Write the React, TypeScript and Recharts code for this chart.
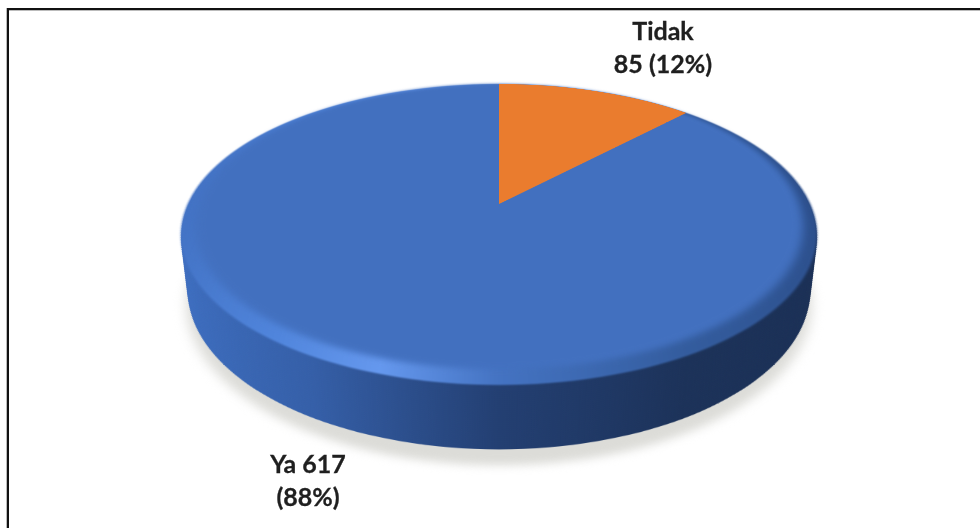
import { PieChart, Pie, Cell } from 'recharts';

const categories = ['Tidak', 'Ya'];
const counts = [85, 617];
const percents = [12, 88];

const sliceData = categories.map((name, i) => ({ name, value: counts[i] }));
const discData = [{ name: 'Total', value: counts[0] + counts[1] }];

// tilt of the disc, worked out from the ellipse and the apex of the slice
const RADIUS = 311.4;
const TILT = 62.4;
const DEPTH = 1362;
const THICKNESS = 64;
const CHART = 640;
const APEX_X = 499;
const APEX_Y = 204;

const sideLayers: number[] = [];
for (let z = THICKNESS; z >= 2; z -= 2) sideLayers.push(z);

function Disc({ z = 0, style, children }: { z?: number; style?: React.CSSProperties; children: React.ReactNode }) {
  return (
    <div
      style={{
        position: 'absolute',
        left: APEX_X - CHART / 2,
        top: APEX_Y - CHART / 2,
        width: CHART,
        height: CHART,
        transform: `perspective(${DEPTH}px) rotateX(${TILT}deg) translateZ(${-z}px)`,
        ...style,
      }}
    >
      <PieChart width={CHART} height={CHART} margin={{ top: 0, right: 0, bottom: 0, left: 0 }}>
        {children}
      </PieChart>
    </div>
  );
}

function SolidDisc({ fill, radius = RADIUS, shift = 0 }: { fill: string; radius?: number; shift?: number }) {
  return (
    <Pie
      data={discData}
      dataKey="value"
      cx={CHART / 2}
      cy={CHART / 2 - shift}
      outerRadius={radius}
      startAngle={90}
      endAngle={-270}
      fill={fill}
      stroke="none"
      isAnimationActive={false}
    />
  );
}

const labelStyle: React.CSSProperties = {
  position: 'absolute',
  width: 160,
  textAlign: 'center',
  fontFamily: 'Lato, "Open Sans", sans-serif',
  fontWeight: 700,
  fontSize: 25,
  lineHeight: '33px',
  color: '#1f1f1f',
  WebkitTextStroke: '0.3px #1f1f1f',
};

export default function App() {
  return (
    <div style={{ position: 'fixed', left: 0, top: 0, width: 980, height: 528, background: '#fff', overflow: 'hidden' }}>
      {/* frame: only the top and left edges show in the crop */}
      <div style={{ position: 'absolute', left: 7, top: 8, right: 0, height: 2, background: '#111' }} />
      <div style={{ position: 'absolute', left: 9, top: 10, right: 0, height: 1, background: '#bbb' }} />
      <div style={{ position: 'absolute', left: 7, top: 8, bottom: 0, width: 2, background: '#111' }} />
      <div style={{ position: 'absolute', left: 6, top: 8, bottom: 0, width: 1, background: '#bbb' }} />

      <Disc z={THICKNESS + 14} style={{ filter: 'blur(6px)' }}>
        <SolidDisc fill="#dcdcd8" radius={RADIUS + 3} />
      </Disc>

      {sideLayers.map((z) => (
        <Disc key={z} z={z}>
          <defs>
            <linearGradient id={`side${z}`} x1="0" y1="0" x2="1" y2="0">
              <stop offset="0" stopColor="#3e6fc2" />
              <stop offset="0.25" stopColor="#355fa8" />
              <stop offset="0.5" stopColor="#233f72" />
              <stop offset="0.75" stopColor="#1c3259" />
              <stop offset="1" stopColor="#1a2f55" />
            </linearGradient>
          </defs>
          <SolidDisc fill={`url(#side${z})`} />
        </Disc>
      ))}

      <Disc style={{ filter: 'blur(1px)' }}>
        <defs>
          <linearGradient id="bevel" x1="0" y1="0" x2="1" y2="0">
            <stop offset="0" stopColor="#4272c4" />
            <stop offset="0.2" stopColor="#5085dc" />
            <stop offset="0.345" stopColor="#6598ee" />
            <stop offset="0.5" stopColor="#4473c2" />
            <stop offset="0.74" stopColor="#345d9f" />
            <stop offset="1" stopColor="#2c4f8c" />
          </linearGradient>
        </defs>
        <SolidDisc fill="url(#bevel)" />
      </Disc>

      <Disc style={{ filter: 'blur(4px)' }}>
        <SolidDisc fill="#4270bf" radius={RADIUS - 11} shift={11} />
      </Disc>

      <Disc>
        <Pie
          data={sliceData}
          dataKey="value"
          cx={CHART / 2}
          cy={CHART / 2}
          outerRadius={RADIUS}
          startAngle={90}
          endAngle={-270}
          stroke="none"
          isAnimationActive={false}
        >
          <Cell fill="#ea7c2e" />
          <Cell fill="#4270bf" fillOpacity={0} />
        </Pie>
      </Disc>

      <div style={{ ...labelStyle, left: 583, top: 14 }}>
        {categories[0]}
        <br />
        {counts[0]} ({percents[0]}%)
      </div>
      <div style={{ ...labelStyle, left: 228, top: 447 }}>
        {categories[1]} {counts[1]}
        <br />({percents[1]}%)
      </div>
    </div>
  );
}
